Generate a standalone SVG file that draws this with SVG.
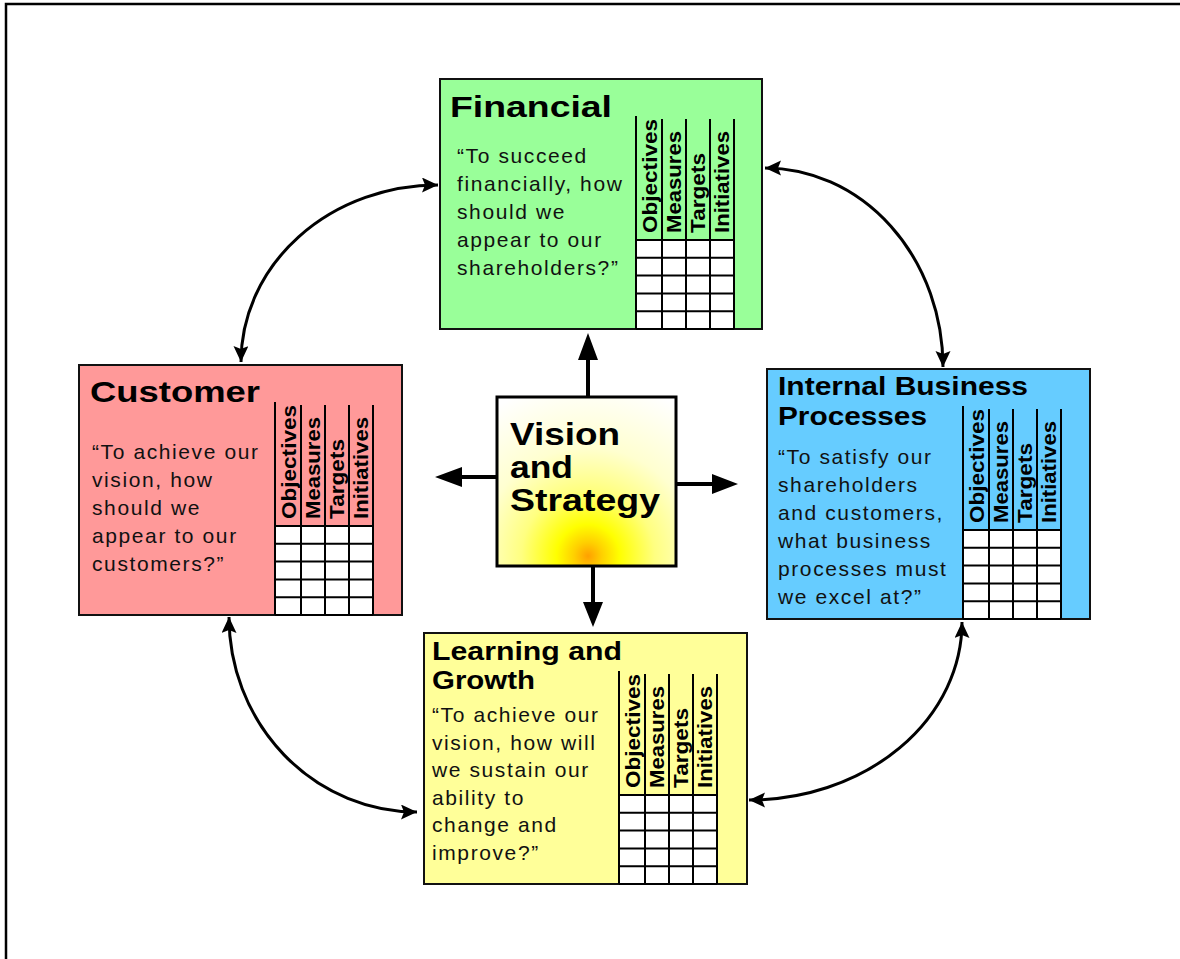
<svg xmlns="http://www.w3.org/2000/svg" width="1180" height="959" viewBox="0 0 1180 959">
<style>
.box{stroke:#111;stroke-width:2}
.title{font-family:"Liberation Sans",Arial,sans-serif;font-weight:bold;fill:#000}
.body{font-family:"Liberation Sans",Arial,sans-serif;font-size:21px;letter-spacing:1.6px;fill:#111}
.hdr{font-family:"Liberation Sans",Arial,sans-serif;font-weight:bold;font-size:21px;fill:#000}
.grid{stroke:#000;stroke-width:2;fill:none}
.cell{fill:#fff}
.arc{fill:none;stroke:#000;stroke-width:3;marker-start:url(#ah);marker-end:url(#ah)}
.shaft{stroke:#000;stroke-width:4;fill:none}
.head{fill:#000}
</style>
<defs>
<marker id="ah" markerUnits="userSpaceOnUse" markerWidth="18" markerHeight="16" refX="16" refY="7.5" orient="auto-start-reverse">
<path d="M0 0 L16 7.5 L0 15 L3 7.5 Z" fill="#000"/>
</marker>
<radialGradient id="vg" gradientUnits="userSpaceOnUse" cx="588" cy="556" r="175">
<stop offset="0" stop-color="#ffa000"/>
<stop offset="0.08" stop-color="#ffd000"/>
<stop offset="0.18" stop-color="#ffff00"/>
<stop offset="0.38" stop-color="#ffff80"/>
<stop offset="0.62" stop-color="#ffffd0"/>
<stop offset="1" stop-color="#ffffff"/>
</radialGradient>
</defs>
<rect width="1180" height="959" fill="#fff"/>
<path d="M6 959 V4 H1180" fill="none" stroke="#000" stroke-width="2.5"/>

<g id="connectors">
<path class="arc" d="M438 185 A197 177 0 0 0 241 362"/>
<path class="arc" d="M765 168 A178 199 0 0 1 943 367"/>
<path class="arc" d="M229 617 A188 195 0 0 0 417 812"/>
<path class="arc" d="M749 800 A213 178 0 0 0 962 622"/>
<path class="shaft" d="M588 397 V358 M497 477 H460 M676 484 H714 M593 566 V604"/>
<path class="head" d="M588 333 L598 360 L578 360 Z M435 477 L462 467 L462 487 Z M738 484 L712 474 L712 494 Z M593 627 L583 602 L603 602 Z"/>
</g>

<g id="financial">
<rect class="box" x="440" y="79" width="322" height="250" fill="#99ff99"/>
<text class="title" x="450" y="117" font-size="30" textLength="162" lengthAdjust="spacingAndGlyphs">Financial</text>
<text class="body" x="457" y="163">“To succeed</text>
<text class="body" x="457" y="191">financially, how</text>
<text class="body" x="457" y="219">should we</text>
<text class="body" x="457" y="247">appear to our</text>
<text class="body" x="457" y="275">shareholders?”</text>
<g transform="translate(636,116)">
<rect class="cell" x="0" y="124" width="98" height="89"/>
<path class="grid" d="M0 0V213 M26 3V213 M50 3V213 M74 3V213 M98 3V213 M0 124H98 M0 141.8H98 M0 159.6H98 M0 177.4H98 M0 195.2H98 M0 213H98"/>
<text class="hdr" transform="translate(21,117) rotate(-90)" textLength="114" lengthAdjust="spacingAndGlyphs">Objectives</text>
<text class="hdr" transform="translate(45,117) rotate(-90)" textLength="102" lengthAdjust="spacingAndGlyphs">Measures</text>
<text class="hdr" transform="translate(69,117) rotate(-90)" textLength="80" lengthAdjust="spacingAndGlyphs">Targets</text>
<text class="hdr" transform="translate(93,117) rotate(-90)" textLength="102" lengthAdjust="spacingAndGlyphs">Initiatives</text>
</g>
</g>

<g id="customer">
<rect class="box" x="79" y="365" width="323" height="250" fill="#ff9999"/>
<text class="title" x="90" y="402" font-size="30" textLength="170" lengthAdjust="spacingAndGlyphs">Customer</text>
<text class="body" x="92" y="459">“To achieve our</text>
<text class="body" x="92" y="487">vision, how</text>
<text class="body" x="92" y="515">should we</text>
<text class="body" x="92" y="543">appear to our</text>
<text class="body" x="92" y="571">customers?”</text>
<g transform="translate(275,402)">
<rect class="cell" x="0" y="124" width="98" height="89"/>
<path class="grid" d="M0 0V213 M26 3V213 M50 3V213 M74 3V213 M98 3V213 M0 124H98 M0 141.8H98 M0 159.6H98 M0 177.4H98 M0 195.2H98 M0 213H98"/>
<text class="hdr" transform="translate(21,117) rotate(-90)" textLength="114" lengthAdjust="spacingAndGlyphs">Objectives</text>
<text class="hdr" transform="translate(45,117) rotate(-90)" textLength="102" lengthAdjust="spacingAndGlyphs">Measures</text>
<text class="hdr" transform="translate(69,117) rotate(-90)" textLength="80" lengthAdjust="spacingAndGlyphs">Targets</text>
<text class="hdr" transform="translate(93,117) rotate(-90)" textLength="102" lengthAdjust="spacingAndGlyphs">Initiatives</text>
</g>
</g>

<g id="internal">
<rect class="box" x="767" y="369" width="323" height="250" fill="#66ccff"/>
<text class="title" x="778" y="395" font-size="25" textLength="250" lengthAdjust="spacingAndGlyphs">Internal Business</text>
<text class="title" x="778" y="425" font-size="25" textLength="149" lengthAdjust="spacingAndGlyphs">Processes</text>
<text class="body" x="778" y="464">“To satisfy our</text>
<text class="body" x="778" y="492">shareholders</text>
<text class="body" x="778" y="520">and customers,</text>
<text class="body" x="778" y="548">what business</text>
<text class="body" x="778" y="576">processes must</text>
<text class="body" x="778" y="604">we excel at?”</text>
<g transform="translate(963,406)">
<rect class="cell" x="0" y="124" width="98" height="89"/>
<path class="grid" d="M0 0V213 M26 3V213 M50 3V213 M74 3V213 M98 3V213 M0 124H98 M0 141.8H98 M0 159.6H98 M0 177.4H98 M0 195.2H98 M0 213H98"/>
<text class="hdr" transform="translate(21,117) rotate(-90)" textLength="114" lengthAdjust="spacingAndGlyphs">Objectives</text>
<text class="hdr" transform="translate(45,117) rotate(-90)" textLength="102" lengthAdjust="spacingAndGlyphs">Measures</text>
<text class="hdr" transform="translate(69,117) rotate(-90)" textLength="80" lengthAdjust="spacingAndGlyphs">Targets</text>
<text class="hdr" transform="translate(93,117) rotate(-90)" textLength="102" lengthAdjust="spacingAndGlyphs">Initiatives</text>
</g>
</g>

<g id="learning">
<rect class="box" x="424" y="633" width="323" height="251" fill="#ffff99"/>
<text class="title" x="432" y="660" font-size="25" textLength="190" lengthAdjust="spacingAndGlyphs">Learning and</text>
<text class="title" x="432" y="689" font-size="25" textLength="103" lengthAdjust="spacingAndGlyphs">Growth</text>
<text class="body" x="432" y="722">“To achieve our</text>
<text class="body" x="432" y="750">vision, how will</text>
<text class="body" x="432" y="777">we sustain our</text>
<text class="body" x="432" y="805">ability to</text>
<text class="body" x="432" y="832">change and</text>
<text class="body" x="432" y="860">improve?”</text>
<g transform="translate(619,671)">
<rect class="cell" x="0" y="124" width="98" height="89"/>
<path class="grid" d="M0 0V213 M26 3V213 M50 3V213 M74 3V213 M98 3V213 M0 124H98 M0 141.8H98 M0 159.6H98 M0 177.4H98 M0 195.2H98 M0 213H98"/>
<text class="hdr" transform="translate(21,117) rotate(-90)" textLength="114" lengthAdjust="spacingAndGlyphs">Objectives</text>
<text class="hdr" transform="translate(45,117) rotate(-90)" textLength="102" lengthAdjust="spacingAndGlyphs">Measures</text>
<text class="hdr" transform="translate(69,117) rotate(-90)" textLength="80" lengthAdjust="spacingAndGlyphs">Targets</text>
<text class="hdr" transform="translate(93,117) rotate(-90)" textLength="102" lengthAdjust="spacingAndGlyphs">Initiatives</text>
</g>
</g>

<g id="vision">
<rect x="497" y="397" width="179" height="169" fill="url(#vg)" stroke="#000" stroke-width="3"/>
<text class="title" x="510" y="445" font-size="31" textLength="110" lengthAdjust="spacingAndGlyphs">Vision</text>
<text class="title" x="510" y="478" font-size="31" textLength="63" lengthAdjust="spacingAndGlyphs">and</text>
<text class="title" x="510" y="511" font-size="31" textLength="150" lengthAdjust="spacingAndGlyphs">Strategy</text>
</g>
</svg>
